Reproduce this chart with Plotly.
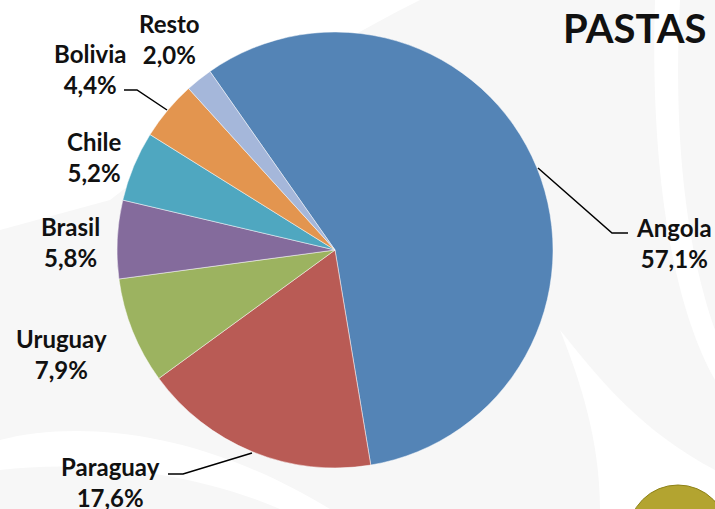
import plotly.graph_objects as go

# ---- data ----
countries = ["Angola", "Paraguay", "Uruguay", "Brasil", "Chile", "Bolivia", "Resto"]
shares = [57.1, 17.6, 7.9, 5.8, 5.2, 4.4, 2.0]
colors = ["#5484B6", "#B95B55", "#9CB360", "#846B9C", "#4FA7C0", "#E3954F", "#A5B7DA"]
title_text = "PASTAS"

W, H = 715, 509


def px(x):
    return x / W


def py(y):
    return 1 - y / H


# pie geometry (pixels)
cx, cy, r = 335, 250, 218

fig = go.Figure()
fig.add_trace(go.Pie(
    labels=countries,
    values=shares,
    sort=False,
    direction="clockwise",
    rotation=-35,
    marker=dict(colors=colors, line=dict(color="rgba(255,255,255,0.6)", width=0.8)),
    textinfo="none",
    hoverinfo="label+percent",
    showlegend=False,
    domain=dict(x=[px(cx - r), px(cx + r)], y=[py(cy + r), py(cy - r)]),
))

label_pos = {
    "Angola": (674, 243),
    "Paraguay": (110, 482),
    "Uruguay": (62, 354),
    "Brasil": (70, 242),
    "Chile": (94, 157),
    "Bolivia": (90, 69),
    "Resto": (169, 39),
}

annotations = []
for name, val in zip(countries, shares):
    x, y = label_pos[name]
    txt = f"<b>{name}<br>{val:.1f}%</b>".replace(".", ",")
    annotations.append(dict(
        x=px(x), y=py(y), xref="paper", yref="paper",
        text=txt, showarrow=False, xanchor="center", yanchor="middle",
        align="center", font=dict(family="Lato", size=24, color="#111111"),
    ))

annotations.append(dict(
    x=px(634), y=py(28), xref="paper", yref="paper",
    text=f"<b>{title_text}</b>", showarrow=False, xanchor="center", yanchor="middle",
    font=dict(family="Lato", size=40, color="#111111"),
))

# leader lines (pixel paths)
leaders = [
    [(538, 168), (612, 233), (628, 233)],   # Angola
    [(252, 453), (183, 474), (168, 474)],   # Paraguay
    [(167, 110), (137, 90), (124, 90)],     # Bolivia
]

shapes = []
# faint watermark background swooshes
shapes.append(dict(type="rect", xref="paper", yref="paper", x0=0, x1=1, y0=0, y1=1,
                   fillcolor="#F7F7F7", line=dict(width=0), layer="below"))
shapes.append(dict(type="path", xref="paper", yref="paper",
                   path=f"M 0 1 L {px(420)} 1 C {px(300)} {py(60)} {px(200)} {py(130)} {px(110)} {py(200)} "
                        f"L 0 {py(230)} Z",
                   fillcolor="#FFFFFF", line=dict(width=0), layer="below"))
shapes.append(dict(type="path", xref="paper", yref="paper",
                   path=f"M {px(655)} 1 L {px(680)} 1 C {px(672)} {py(150)} {px(690)} {py(260)} {px(715)} {py(330)} "
                        f"L {px(715)} {py(380)} C {px(670)} {py(300)} {px(650)} {py(160)} {px(655)} 1 Z",
                   fillcolor="#FFFFFF", line=dict(width=0), layer="below"))
shapes.append(dict(type="path", xref="paper", yref="paper",
                   path=f"M 0 {py(440)} C {px(80)} {py(420)} {px(200)} {py(430)} {px(330)} {py(509)} "
                        f"L {px(280)} 0 C {px(190)} {py(470)} {px(80)} {py(460)} 0 {py(470)} Z",
                   fillcolor="#FFFFFF", line=dict(width=0), layer="below"))
shapes.append(dict(type="path", xref="paper", yref="paper",
                   path=f"M {px(560)} {py(330)} C {px(600)} {py(380)} {px(640)} {py(430)} {px(715)} {py(470)} "
                        f"L {px(715)} {py(509)} L {px(600)} {py(509)} C {px(600)} {py(440)} {px(580)} {py(380)} {px(560)} {py(330)} Z",
                   fillcolor="#FFFFFF", line=dict(width=0), layer="below"))
# logo circle bottom-right
shapes.append(dict(type="circle", xref="paper", yref="paper",
                   x0=px(628), x1=px(728), y0=py(585), y1=py(485),
                   fillcolor="#B3A430", line=dict(color="#8E8218", width=1), layer="above"))

for pts in leaders:
    path = "M " + " L ".join(f"{px(x)} {py(y)}" for x, y in pts)
    shapes.append(dict(type="path", xref="paper", yref="paper", path=path,
                       line=dict(color="#000000", width=1.5), layer="above"))

fig.update_layout(
    width=W, height=H,
    margin=dict(l=0, r=0, t=0, b=0),
    paper_bgcolor="#FFFFFF",
    plot_bgcolor="#FFFFFF",
    annotations=annotations,
    shapes=shapes,
)

fig.write_html(
    "out.html",
    config={"displayModeBar": False},
    post_script="document.body.style.margin='0';document.body.style.overflow='hidden';",
)
